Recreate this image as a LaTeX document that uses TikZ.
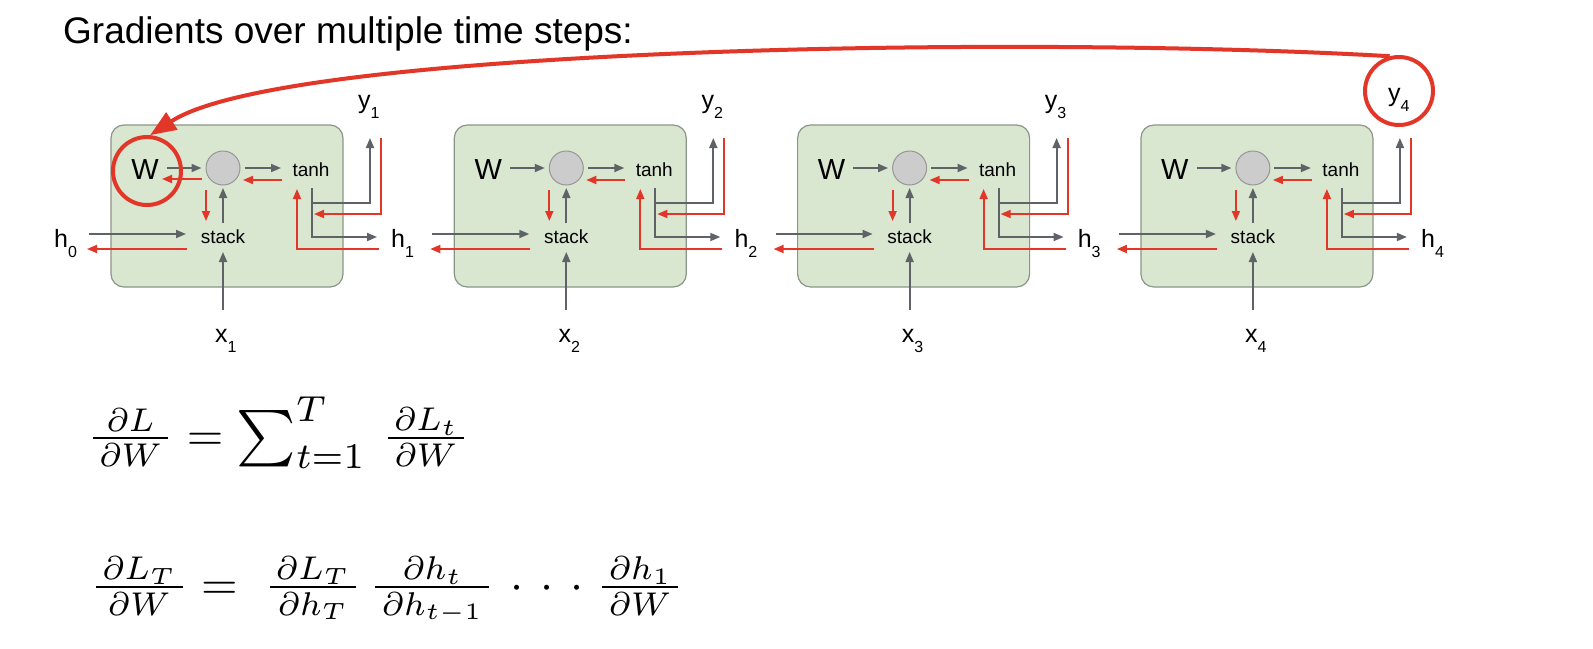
\documentclass[tikz,border=0pt]{standalone}
\usepackage{amsmath}
\usepackage{graphicx}
\usepackage{fontspec}
\setmainfont{Liberation Sans}
\usetikzlibrary{arrows.meta,calc}
\definecolor{gr}{RGB}{95,99,104}
\definecolor{rd}{RGB}{226,54,40}
\definecolor{cellfill}{RGB}{217,231,208}
\definecolor{celldraw}{RGB}{140,150,136}
\definecolor{circfill}{RGB}{204,204,204}
\definecolor{circdraw}{RGB}{150,150,150}
\newcommand\lab[2]{\fontsize{25}{25}\selectfont #1\raisebox{-10pt}{\fontsize{16}{16}\selectfont #2}}
\newcommand\pf[2]{\frac{\mkern3mu#1\mkern3mu}{\mkern3mu#2\mkern3mu}}
\newcommand\wdots{\mathinner{\cdotp\mkern3.5mu\cdotp\mkern3.5mu\cdotp}}
\newcommand\bigsum{\mathop{\vcenter{\hbox{\scalebox{1.2}{$\textstyle\sum$}}}}\nolimits}
\newcommand\bsc[1]{\scalebox{1.1}{$\scriptstyle #1$}}
\tikzset{
  garr/.style={draw=gr, line width=1.8pt, -{Triangle[length=10pt,width=8pt]}},
  rarr/.style={draw=rd, line width=1.8pt, -{Triangle[length=10pt,width=8pt]}},
  cellbox/.style={draw=celldraw, fill=cellfill, rounded corners=13pt, line width=1.2pt,
    minimum width=232pt, minimum height=162pt},
  wlab/.style={inner sep=0pt, font=\fontsize{29}{29}\selectfont},
  mult/.style={circle, draw=circdraw, fill=circfill, line width=1pt, minimum size=34pt, inner sep=0pt},
  small/.style={inner sep=0pt, font=\fontsize{19}{19}\selectfont},
  lab/.style={inner sep=0pt, anchor=base west},
  rcirc/.style={circle, draw=rd, line width=4pt, minimum size=68pt, inner sep=0pt},
  rarc/.style={draw=rd, line width=4pt, -{Triangle[length=26pt,width=20pt]}},
  eq/.style={inner sep=0pt, anchor=base west}
}
\begin{document}
\begin{tikzpicture}[x=1pt,y=-1pt]
\useasboundingbox[fill=white] (0,0) rectangle (1593,648);
\node[anchor=base west, inner sep=0pt, font=\fontsize{37}{37}\selectfont] (title) at (63,43) {Gradients over multiple time steps:};
\node[lab] (h0) at (54,247) {\lab{h}{0}};
\foreach \k in {1,2,3,4} {
  \pgfmathsetmacro\dx{(\k-1)*343.3}
  \pgfmathsetmacro\yb{\k==4 ? 101 : 108}
  \begin{scope}[shift={(\dx,0)}]
    \node[cellbox] (box\k) at (227,206) {};
    \node[wlab] (W\k) at (145,170) {W};
    \node[mult] (c\k) at (223,168) {};
    \node[small] (t\k) at (311,170) {tanh};
    \node[small] (s\k) at (223,237) {stack};
    \node[lab] (x\k) at (215,342) {\lab{x}{\k}};
    \node[lab] (h\k) at (391,247) {\lab{h}{\k}};
    \node[lab] (y\k) at (358,\yb) {\lab{y}{\k}};
    % gray forward arrows
    \draw[garr] ([shift={(8,-2)}]W\k.east) -- ([shift={(-4,0)}]c\k.west);
    \draw[garr] ([shift={(4,0)}]c\k.east) -- ($(t\k)+(-30,-2)$);
    \draw[garr] ($(s\k)+(0,-14)$) -- ($(c\k)+(0,20)$);
    \draw[garr] ($(s\k)+(0,73)$) -- ($(s\k)+(0,15)$);
    \draw[garr] ($(s\k)+(-134,-3)$) -- ($(s\k)+(-37,-3)$);
    \draw[garr] ($(t\k)+(1,18)$) -- ($(t\k)+(1,67)$) -- ($(t\k)+(66,67)$);
    \draw[garr] ($(t\k)+(1,33)$) -- ($(t\k)+(59,33)$) -- ($(t\k)+(59,-32)$);
    % red backward arrows
    \draw[rarr] ($(t\k)+(-29,10)$) -- ($(t\k)+(-68,10)$);
    \draw[rarr] ($(c\k)+(-17,22)$) -- ($(c\k)+(-17,53)$);
    \draw[rarr] ($(s\k)+(-36,12)$) -- ($(s\k)+(-136,12)$);
    \draw[rarr] ($(t\k)+(70,-32)$) -- ($(t\k)+(70,44)$) -- ($(t\k)+(3,44)$);
    \draw[rarr] ($(t\k)+(68,79)$) -- ($(t\k)+(-14,79)$) -- ($(t\k)+(-14,19)$);
  \end{scope}
}
\draw[rarr] ($(c1)+(-21,11)$) -- ($(c1)+(-61,11)$);
\node[rcirc] (wcirc) at (147,171) {};
\node[rcirc] (ycirc) at (1399,91) {};
\coordinate (arcmid) at (870,48);
\draw[rarc] (ycirc.105) .. controls (1250,48) and (1050,45) .. (arcmid)
  .. controls (620,52) and (250,70) .. (wcirc.85);
\node[eq] (eq1) at (87,450) {\scalebox{4.7}{$\pf{\partial L}{\partial W} = \bigsum_{\bsc{t=1}}^{\bsc{T}}\,\pf{\partial L_t}{\partial W}$}};
\node[eq] (eq2) at (90,599) {\scalebox{4.7}{$\pf{\partial L_T}{\partial W} = \;\pf{\partial L_T}{\partial h_T}\,\pf{\partial h_t}{\partial h_{t-1}}\,\wdots\mkern2mu\pf{\partial h_1}{\partial W}$}};
\end{tikzpicture}
\end{document}
